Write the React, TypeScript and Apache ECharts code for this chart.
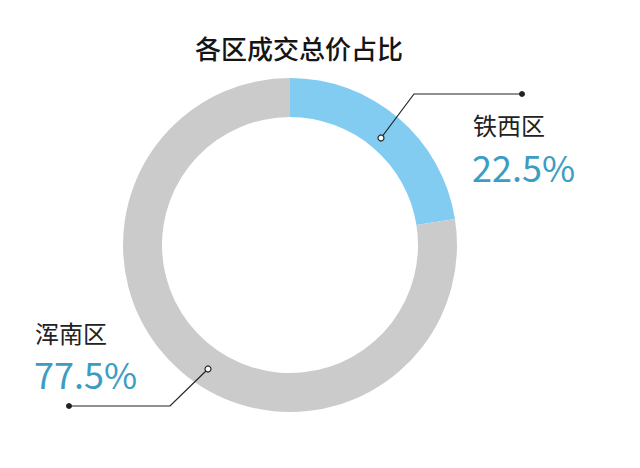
import React, { useEffect, useRef } from "react";
import * as echarts from "echarts";

const title = "各区成交总价占比";
const categories = ["铁西区", "浑南区"];
const shares = [22.5, 77.5];
const colors = ["#82CCF2", "#CBCBCB"];

const CJK = '"Noto Sans CJK SC", "Noto Sans", sans-serif';

export default function App() {
  const ref = useRef<HTMLDivElement>(null);
  useEffect(() => {
    document.body.style.margin = "0";
    const chart = echarts.init(ref.current!, null, { renderer: "svg" });
    const fmt = (v: number) => v.toFixed(1) + "%";
    const Z = 100;
    chart.setOption({
      animation: false,
      backgroundColor: "#ffffff",
      title: {
        text: title,
        left: 294,
        top: 29,
        textAlign: "center",
        textStyle: { fontFamily: CJK, fontSize: 26, fontWeight: 500, color: "#151515" },
      },
      series: [
        {
          type: "pie",
          center: [290, 245],
          radius: [128, 167],
          startAngle: 90,
          clockwise: true,
          silent: true,
          z: 1,
          label: { show: false },
          labelLine: { show: false },
          data: categories.map((c, i) => ({
            name: c,
            value: shares[i],
            itemStyle: { color: colors[i] },
          })),
        },
      ],
      graphic: [
        {
          type: "polyline",
          z: Z,
          shape: { points: [[381, 138], [414, 94], [522, 94]] },
          style: { stroke: "#222", lineWidth: 1.2, fill: "none" },
        },
        { type: "circle", z: Z + 1, shape: { cx: 381, cy: 138, r: 3 }, style: { fill: "#ffffff", stroke: "#222", lineWidth: 1.2 } },
        { type: "circle", z: Z + 1, shape: { cx: 522, cy: 94, r: 3 }, style: { fill: "#222" } },
        {
          type: "polyline",
          z: Z,
          shape: { points: [[208, 369], [170, 406], [69, 406]] },
          style: { stroke: "#222", lineWidth: 1.2, fill: "none" },
        },
        { type: "circle", z: Z + 1, shape: { cx: 208, cy: 369, r: 3 }, style: { fill: "#ffffff", stroke: "#222", lineWidth: 1.2 } },
        { type: "circle", z: Z + 1, shape: { cx: 69, cy: 406, r: 3 }, style: { fill: "#222" } },
        {
          type: "text",
          z: Z,
          x: 473,
          y: 124,
          style: { text: categories[0], font: `24px ${CJK}`, fill: "#222", textVerticalAlign: "middle", textAlign: "left" },
        },
        {
          type: "text",
          z: Z,
          x: 472,
          y: 166,
          style: { text: fmt(shares[0]), font: `36px ${CJK}`, fill: "#3D9CC2", textVerticalAlign: "middle", textAlign: "left" },
        },
        {
          type: "text",
          z: Z,
          x: 35,
          y: 332,
          style: { text: categories[1], font: `24px ${CJK}`, fill: "#222", textVerticalAlign: "middle", textAlign: "left" },
        },
        {
          type: "text",
          z: Z,
          x: 34,
          y: 373,
          style: { text: fmt(shares[1]), font: `36px ${CJK}`, fill: "#3D9CC2", textVerticalAlign: "middle", textAlign: "left" },
        },
      ],
    });
    return () => chart.dispose();
  }, []);
  return <div ref={ref} style={{ width: 640, height: 468, position: "fixed", left: 0, top: 0 }} />;
}
